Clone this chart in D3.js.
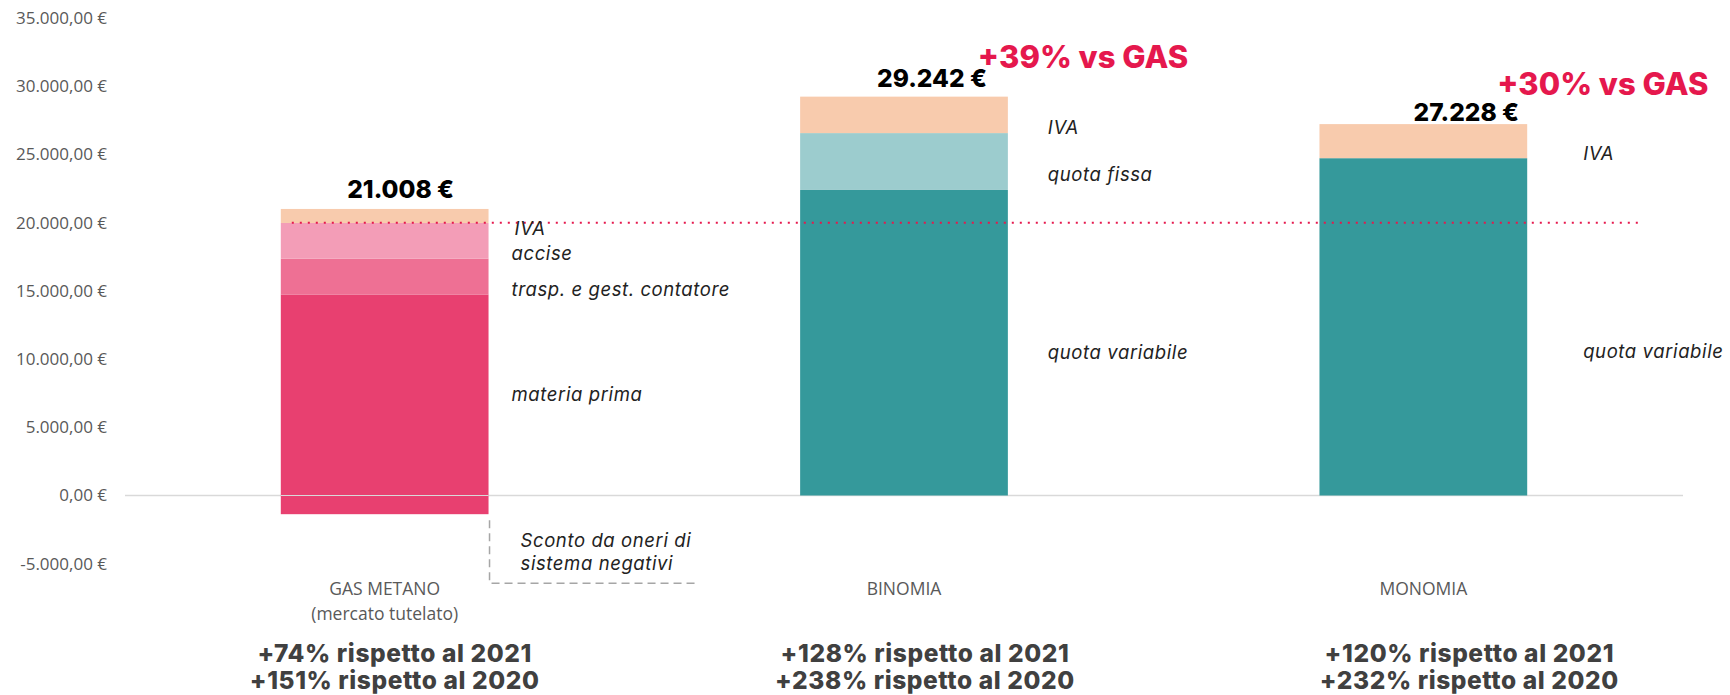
<!DOCTYPE html>
<html>
<head>
<meta charset="utf-8">
<script src="https://cdn.jsdelivr.net/npm/d3@7"></script>
<style>
  html, body { margin: 0; padding: 0; background: #fff; }
  svg { display: block; }
  .tick text { font-family: "Open Sans", sans-serif; font-size: 17px; fill: #595959; }
  .seg-label { font-family: Inter, sans-serif; font-style: italic; font-size: 18.5px; fill: #222; letter-spacing: 0.6px; }
  .cat-label { font-family: "Open Sans", sans-serif; font-size: 17.5px; fill: #595959; }
  .total-label { font-family: Inter, sans-serif; font-weight: 800; font-size: 24.5px; fill: #000; }
  .vs-label { font-family: Inter, sans-serif; font-weight: 800; font-size: 31px; fill: #E5184D; }
  .yoy-label { font-family: Inter, sans-serif; font-weight: 800; font-size: 24.5px; fill: #404040; letter-spacing: 0.6px; }
</style>
</head>
<body>
<div class="canvas"></div>
<script>
// data
var categories = ["GAS METANO", "BINOMIA", "MONOMIA"];
var categorySub = ["(mercato tutelato)", "", ""];

// materia prima (gas) / quota variabile (luce)
var baseValues = [14740, 22400, 24730];
var traspValues = [2630, 0, 0];
var acciseValues = [2610, 0, 0];
var fissaValues = [0, 4170, 0];
var ivaValues = [1028, 2672, 2498];
var scontoValues = [-1370, 0, 0];

var baseLabels = ["materia prima", "quota variabile", "quota variabile"];
var traspLabels = ["trasp. e gest. contatore", "", ""];
var acciseLabels = ["accise", "", ""];
var fissaLabels = ["", "quota fissa", ""];
var ivaLabels = ["IVA", "IVA", "IVA"];

var vs2021 = [74, 128, 120];
var vs2020 = [151, 238, 232];

var refLineValue = 20000;
var yTicks = [-5000, 0, 5000, 10000, 15000, 20000, 25000, 30000, 35000];

// layout
var width = 1730, height = 695;
var keys = ["base", "trasp", "accise", "fissa", "iva", "sconto"];
var gasColors = { base: "#E84070", trasp: "#EE7094", accise: "#F39DB7", iva: "#F8CBAD", sconto: "#E84070" };
var luceColors = { base: "#35999B", fissa: "#9CCCCE", iva: "#F8CBAD" };
var totalDx = [16, 28, 43], totalDy = [11, 10, 3];
var yoyDx = [10, 21, 46];
var segDx = [23, 40, 56];

var rows = categories.map(function (c, i) {
    return {
        cat: c,
        base: baseValues[i], trasp: traspValues[i], accise: acciseValues[i],
        fissa: fissaValues[i], iva: ivaValues[i], sconto: scontoValues[i]
    };
});
var labelsByKey = { base: baseLabels, trasp: traspLabels, accise: acciseLabels, fissa: fissaLabels, iva: ivaLabels };

var svg = d3.select(".canvas").append("svg")
    .attr("width", width)
    .attr("height", height);

var x = d3.scaleBand()
    .domain(categories)
    .range([125, 1683])
    .paddingInner(0.6)
    .paddingOuter(0.3);

var y = d3.scaleLinear()
    .domain([-5000, 35000])
    .range([563.7, 18.1]);

var locale = d3.formatLocale({ decimal: ",", thousands: ".", grouping: [3], currency: ["", " €"], minus: "-" });
var fmtAxis = locale.format("$,.2f");
var fmtTotal = locale.format(",.0f");

// y axis
svg.append("g")
    .attr("transform", "translate(125,0)")
    .call(d3.axisLeft(y).tickValues(yTicks).tickSize(0).tickPadding(18).tickFormat(fmtAxis))
    .call(g => g.select(".domain").remove());

// zero line
svg.append("line")
    .attr("x1", 125).attr("x2", 1683)
    .attr("y1", y(0)).attr("y2", y(0))
    .attr("stroke", "#D9D9D9")
    .attr("stroke-width", 1.5);

var series = d3.stack().keys(keys).offset(d3.stackOffsetDiverging)(rows);

series.forEach(function (s) {
    svg.append("g")
        .selectAll("rect")
        .data(s.filter(d => d[1] - d[0] !== 0))
        .enter().append("rect")
        .attr("x", d => x(d.data.cat))
        .attr("width", x.bandwidth())
        .attr("y", d => y(d[1]))
        .attr("height", d => y(d[0]) - y(d[1]))
        .attr("fill", d => (d.data.cat === categories[0] ? gasColors : luceColors)[s.key]);
});

// zero line shows through the gas bar in the original
svg.append("line")
    .attr("x1", x(categories[0])).attr("x2", x(categories[0]) + x.bandwidth())
    .attr("y1", y(0)).attr("y2", y(0))
    .attr("stroke", "#D9D9D9")
    .attr("stroke-width", 1);

// reference dotted line
svg.append("line")
    .attr("x1", x(categories[0]) + 11)
    .attr("x2", x(categories[2]) + x.bandwidth() + 114)
    .attr("y1", y(refLineValue)).attr("y2", y(refLineValue))
    .attr("stroke", "#E5184D")
    .attr("stroke-width", 2)
    .attr("stroke-dasharray", "2,6");

// segment labels
series.forEach(function (s) {
    if (!labelsByKey[s.key]) return;
    s.forEach(function (d, i) {
        var txt = labelsByKey[s.key][i];
        if (!txt || d[1] - d[0] === 0) return;
        var mid = (y(d[0]) + y(d[1])) / 2;
        var dy = 19;
        if (s.key === "base") dy = i === 0 ? 6 : (i === 2 ? 31 : 16);
        svg.append("text")
            .attr("class", "seg-label")
            .attr("x", x(d.data.cat) + x.bandwidth() + segDx[i] + (s.key === "iva" && i === 0 ? 3 : 0))
            .attr("y", mid + dy)
            .text(txt);
    });
});

// sconto callout
var gasRight = x(categories[0]) + x.bandwidth();
var scontoBottom = y(scontoValues[0]);
svg.append("path")
    .attr("d", "M" + (gasRight + 1) + "," + (scontoBottom + 6) + "V" + (scontoBottom + 69) + "H" + (gasRight + 208))
    .attr("fill", "none")
    .attr("stroke", "#A6A6A6")
    .attr("stroke-width", 1.5)
    .attr("stroke-dasharray", "8,5");
svg.append("text")
    .attr("class", "seg-label")
    .attr("x", gasRight + 32)
    .attr("y", scontoBottom + 33)
    .text("Sconto da oneri di");
svg.append("text")
    .attr("class", "seg-label")
    .attr("x", gasRight + 32)
    .attr("y", scontoBottom + 56)
    .text("sistema negativi");

// totals
var totals = rows.map(r => r.base + r.trasp + r.accise + r.fissa + r.iva);
svg.append("g")
    .selectAll("text")
    .data(totals)
    .enter().append("text")
    .attr("class", "total-label")
    .attr("text-anchor", "middle")
    .attr("x", (d, i) => x(categories[i]) + x.bandwidth() / 2 + totalDx[i])
    .attr("y", (d, i) => y(d) - totalDy[i])
    .text(d => fmtTotal(d) + " €");

// vs GAS
svg.append("g")
    .selectAll("text")
    .data(totals.slice(1))
    .enter().append("text")
    .attr("class", "vs-label")
    .attr("x", (d, i) => x(categories[i + 1]) + x.bandwidth() - 30)
    .attr("y", d => y(d) - 29)
    .text(d => "+" + Math.round((d / totals[0] - 1) * 100) + "% vs GAS");

// category labels
categories.forEach(function (c, i) {
    var cx = x(c) + x.bandwidth() / 2;
    svg.append("text")
        .attr("class", "cat-label")
        .attr("text-anchor", "middle")
        .attr("x", cx).attr("y", 595)
        .text(c);
    if (categorySub[i]) {
        svg.append("text")
            .attr("class", "cat-label")
            .attr("text-anchor", "middle")
            .attr("x", cx).attr("y", 620)
            .text(categorySub[i]);
    }
});

// yoy labels
categories.forEach(function (c, i) {
    var cx = x(c) + x.bandwidth() / 2 + yoyDx[i];
    svg.append("text")
        .attr("class", "yoy-label")
        .attr("text-anchor", "middle")
        .attr("x", cx).attr("y", 662)
        .text("+" + vs2021[i] + "% rispetto al 2021");
    svg.append("text")
        .attr("class", "yoy-label")
        .attr("text-anchor", "middle")
        .attr("x", cx).attr("y", 689)
        .text("+" + vs2020[i] + "% rispetto al 2020");
});
</script>
</body>
</html>
